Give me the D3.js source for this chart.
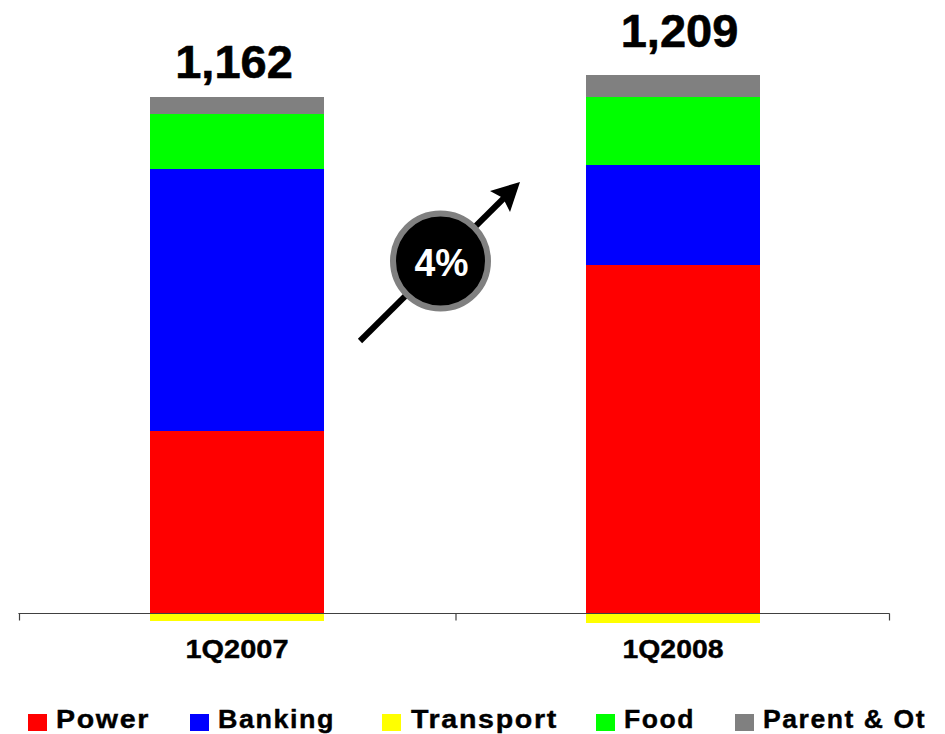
<!DOCTYPE html>
<html>
<head>
<meta charset="utf-8">
<script src="https://cdnjs.cloudflare.com/ajax/libs/d3/7.8.5/d3.min.js"></script>
<style>
  html, body { margin: 0; padding: 0; background: #fff; }
  svg { display: block; }
  text { font-family: "Liberation Sans", Arial, sans-serif; font-weight: 700; fill: #000; }
</style>
</head>
<body>
<svg id="chart" width="945" height="734"></svg>
<script>
// Quarterly totals by business segment
const quarters = ["1Q2007", "1Q2008"];
const totals = [1162, 1209];
const segments = ["Power", "Banking", "Transport", "Food", "Parent & Other"];
const segmentColors = ["#ff0000", "#0000ff", "#ffff00", "#00ff00", "#808080"];
const power = [417, 796];
const banking = [598, 229];
const transport = [-18, -21];
const food = [126, 155];
const parentOther = [39, 50];
const growthLabel = "4%";

const seriesValues = [power, banking, transport, food, parentOther];
const rows = quarters.map((q, i) => {
  const row = { quarter: q };
  segments.forEach((s, j) => { row[s] = seriesValues[j][i]; });
  return row;
});

const svg = d3.select("#chart");
const baseline = 613.5;
const pxPerUnit = 0.438;

const x = d3.scaleBand().domain(quarters).range([19, 891]).paddingInner(0.6).paddingOuter(0.3);
const y = d3.scaleLinear().domain([0, 1200]).range([baseline, baseline - 1200 * pxPerUnit]);
const color = d3.scaleOrdinal().domain(segments).range(segmentColors);

// Stack with negatives hanging below the axis
const stacked = d3.stack().keys(segments).offset(d3.stackOffsetDiverging)(rows);

svg.append("g").attr("shape-rendering", "crispEdges").selectAll("g").data(stacked).join("g")
  .attr("fill", d => color(d.key))
  .selectAll("rect").data(d => d).join("rect")
  .attr("x", d => x(d.data.quarter))
  .attr("width", x.bandwidth())
  .attr("y", d => y(Math.max(d[0], d[1])))
  .attr("height", d => Math.abs(y(d[0]) - y(d[1])));

// Axis line with ticks on the category boundaries
const boundaries = d3.scaleLinear().domain([0, 1, 2]).range([19, 455.5, 889]);
const axisG = svg.append("g").attr("transform", `translate(0,${baseline})`)
  .call(d3.axisBottom(boundaries).tickValues([0, 1, 2]).tickSize(7).tickSizeOuter(0).tickFormat(""));
axisG.selectAll("path, line").attr("stroke", "#404040").attr("stroke-width", 1.2);
axisG.select("path").attr("d", "M19,0.5V0H889V0.5");

// Category labels
const categoryLabelWidths = [103, 101];
svg.append("g").selectAll("text").data(quarters).join("text")
  .attr("x", d => x(d) + x.bandwidth() / 2)
  .attr("y", 658)
  .attr("text-anchor", "middle")
  .attr("font-size", 25)
  .attr("textLength", (d, i) => categoryLabelWidths[i])
  .attr("lengthAdjust", "spacingAndGlyphs")
  .attr("stroke", "#000").attr("stroke-width", 0.4)
  .text(d => d);

// Totals above each stack
const totalOffsetX = [-3, 6.5];
const totalGap = [19, 28];
const stackTop = i => y(power[i] + banking[i] + food[i] + parentOther[i]);
svg.append("g").selectAll("text").data(totals).join("text")
  .attr("x", (d, i) => x(quarters[i]) + x.bandwidth() / 2 + totalOffsetX[i])
  .attr("y", (d, i) => stackTop(i) - totalGap[i])
  .attr("text-anchor", "middle")
  .attr("font-size", 47)
  .attr("stroke", "#000").attr("stroke-width", 0.6)
  .text(d => d3.format(",")(d));

// Growth arrow and badge
svg.append("defs").append("clipPath").attr("id", "legend-clip")
  .append("rect").attr("x", 0).attr("y", 690).attr("width", 925).attr("height", 44);

const arrow = svg.append("g");
arrow.append("line")
  .attr("x1", 360).attr("y1", 341).attr("x2", 506).attr("y2", 196)
  .attr("stroke", "#000").attr("stroke-width", 6);
arrow.append("path")
  .attr("d", "M520,182L490,191L503,198L510,212Z")
  .attr("fill", "#000");
arrow.append("circle")
  .attr("cx", 440.5).attr("cy", 261).attr("r", 47.5)
  .attr("fill", "#000").attr("stroke", "#808080").attr("stroke-width", 6);
arrow.append("text")
  .attr("x", 441.5).attr("y", 276)
  .attr("text-anchor", "middle")
  .attr("font-size", 38)
  .attr("textLength", 54)
  .attr("lengthAdjust", "spacingAndGlyphs")
  .style("fill", "#fff")
  .text(growthLabel);

// Legend, running off the right edge
const legendSwatchX = [28, 190, 382, 596, 735];
const legendTextX = [56, 218, 411, 624, 763];
const legendTextWidths = [94, 117, 147, 71, 209];
const legend = svg.append("g").attr("clip-path", "url(#legend-clip)");
const entries = legend.selectAll("g").data(segments).join("g");
entries.append("rect")
  .attr("x", (d, i) => legendSwatchX[i]).attr("y", 714)
  .attr("width", 19).attr("height", 17)
  .attr("fill", d => color(d));
entries.append("text")
  .attr("x", (d, i) => legendTextX[i]).attr("y", 728)
  .attr("font-size", 26)
  .attr("letter-spacing", 1.5)
  .attr("textLength", (d, i) => legendTextWidths[i])
  .attr("lengthAdjust", "spacingAndGlyphs")
  .attr("stroke", "#000").attr("stroke-width", 0.4)
  .text(d => d);
</script>
</body>
</html>
